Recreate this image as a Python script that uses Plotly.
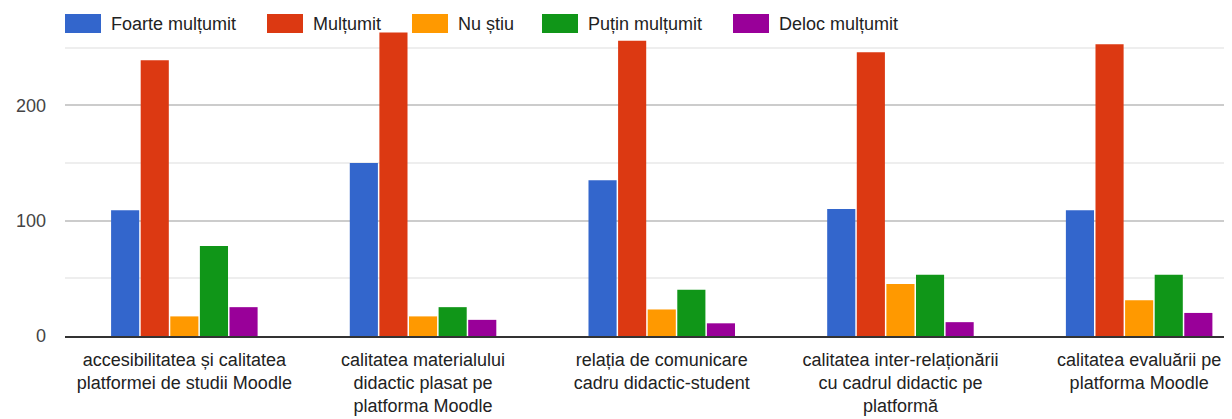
import plotly.graph_objects as go

categories = [
    "accesibilitatea și calitatea<br>platformei de studii Moodle",
    "calitatea materialului<br>didactic plasat pe<br>platforma Moodle",
    "relația de comunicare<br>cadru didactic-student",
    "calitatea inter-relaționării<br>cu cadrul didactic pe<br>platformă",
    "calitatea evaluării pe<br>platforma Moodle",
]
series_names = ["Foarte mulțumit", "Mulțumit", "Nu știu", "Puțin mulțumit", "Deloc mulțumit"]
foarte_multumit = [109, 150, 135, 110, 109]
multumit = [239, 263, 256, 246, 253]
nu_stiu = [17, 17, 23, 45, 31]
putin_multumit = [78, 25, 40, 53, 53]
deloc_multumit = [25, 14, 11, 12, 20]
colors = ["#3366cc", "#dc3912", "#ff9900", "#109618", "#990099"]
y_ticks = [0, 100, 200]

FONT = "Liberation Sans, Arial, sans-serif"
OFF = 8  # page body margin offset
W, H = 1232, 419
ML, MR, MT, MB = 65 - OFF, OFF, 13 - OFF, H - (336 - OFF)
PW, PH = W - ML - MR, H - MT - MB

def px_x(px):
    return (px - OFF - ML) / PW

def px_y(py):
    return (H - MB - (py - OFF)) / PH

fig = go.Figure()
for name, vals, col in zip(series_names,
                           [foarte_multumit, multumit, nu_stiu, putin_multumit, deloc_multumit],
                           colors):
    fig.add_trace(go.Bar(x=categories, y=vals, name=name, showlegend=False,
                         marker=dict(color=col, line=dict(width=0))))

# legend drawn as swatches + text (pixel layout of the reference)
legend_left = [65, 267, 412, 542, 733]
shapes, annotations = [], []
for name, col, lx in zip(series_names, colors, legend_left):
    shapes.append(dict(type="rect", xref="paper", yref="paper",
                       x0=px_x(lx), x1=px_x(lx + 36), y0=px_y(33), y1=px_y(14),
                       fillcolor=col, line=dict(width=0), layer="above"))
    annotations.append(dict(text=name, xref="paper", yref="paper", x=px_x(lx + 44), y=px_y(23.5),
                            xanchor="left", yanchor="middle", showarrow=False,
                            font=dict(family=FONT, size=18, color="#222222")))

fig.update_layout(
    width=W, height=H,
    margin=dict(l=ML, r=MR, t=MT, b=MB, autoexpand=False),
    paper_bgcolor="white", plot_bgcolor="white",
    barmode="group", bargap=0.38, bargroupgap=0.05,
    font=dict(family=FONT, size=18, color="#222222"),
    shapes=shapes, annotations=annotations,
    xaxis=dict(range=[-0.5, 4.389], showgrid=False, showline=True, linecolor="#333333",
               linewidth=2, ticks="", automargin=False, ticklabelstandoff=6,
               tickfont=dict(family=FONT, size=18, color="#222222"), tickangle=0),
    yaxis=dict(range=[0, 280], tickvals=y_ticks, showgrid=True, gridcolor="#cccccc", gridwidth=2,
               zeroline=False, ticks="", ticklabelstandoff=18, automargin=False,
               tickfont=dict(family=FONT, size=18, color="#444444"),
               minor=dict(tickvals=[50, 150, 250], showgrid=True, gridcolor="#eeeeee", gridwidth=2)),
)

fig.write_html("out.html")
